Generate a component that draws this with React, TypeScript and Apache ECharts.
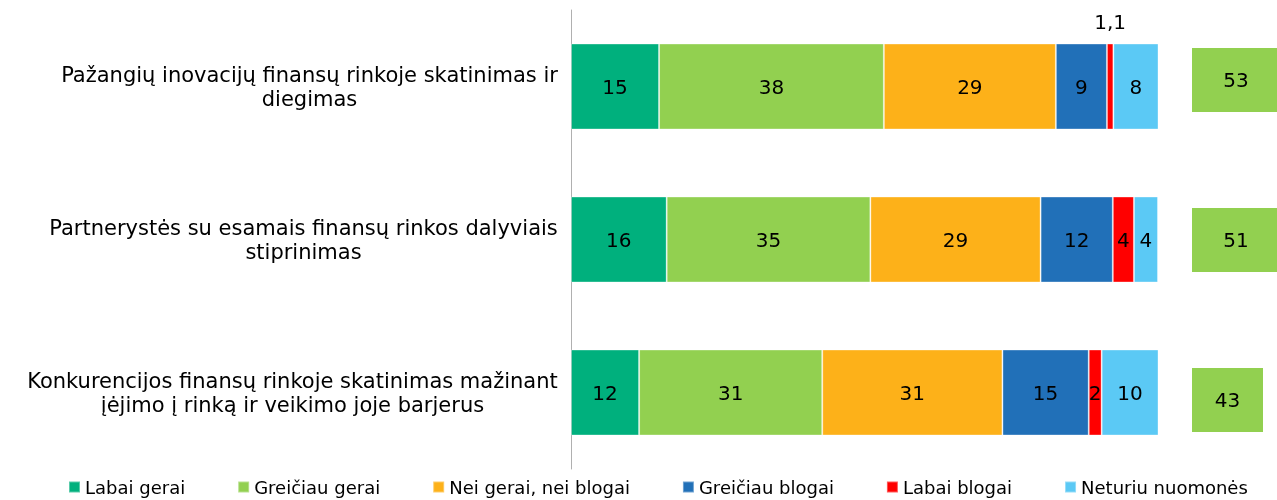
import React, { useEffect, useRef } from "react";
import * as echarts from "echarts";

const categories = [
  "Pažangių inovacijų finansų rinkoje skatinimas ir\ndiegimas",
  "Partnerystės su esamais finansų rinkos dalyviais\nstiprinimas",
  "Konkurencijos finansų rinkoje skatinimas mažinant\nįėjimo į rinką ir veikimo joje barjerus",
];
const seriesNames = [
  "Labai gerai",
  "Greičiau gerai",
  "Nei gerai, nei blogai",
  "Greičiau blogai",
  "Labai blogai",
  "Neturiu nuomonės",
];
const labaiGerai = [15, 16.3, 11.6];
const greiciauGerai = [38.3, 34.7, 31.2];
const neiGerai = [29.3, 29, 30.7];
const greiciauBlogai = [8.7, 12.3, 14.7];
const labaiBlogai = [1.1, 3.6, 2.2];
const neturiu = [7.7, 4.1, 9.7];
const totals = [53, 51, 43];
const colors = ["#00B07D", "#92D050", "#FDB119", "#2170B8", "#FF0000", "#5BC9F5"];

const FONT = "DejaVu Sans, Verdana, sans-serif";
const CAT_FONT_SIZE = 21;

export default function App() {
  const ref = useRef<HTMLDivElement>(null);
  useEffect(() => {
    const chart = echarts.init(ref.current!, null, { renderer: "svg" });
    const values = [labaiGerai, greiciauGerai, neiGerai, greiciauBlogai, labaiBlogai, neturiu];

    // measure label blocks so lines are centred within a right-aligned block
    const ctx = document.createElement("canvas").getContext("2d")!;
    ctx.font = `${CAT_FONT_SIZE}px "DejaVu Sans", Verdana, sans-serif`;
    const rich: Record<string, any> = {};
    categories.forEach((c, i) => {
      const w = Math.max(...c.split("\n").map((l) => ctx.measureText(l).width));
      rich["c" + i] = {
        width: Math.ceil(w) + 2,
        align: "center",
        fontSize: CAT_FONT_SIZE,
        lineHeight: 24,
        color: "#000",
        fontFamily: FONT,
      };
    });

    const barSeries = values.map((vals, i) => ({
      name: seriesNames[i],
      type: "bar",
      stack: "total",
      xAxisIndex: 0,
      yAxisIndex: 0,
      barWidth: 86,
      itemStyle: {
        color: colors[i],
        borderColor: "rgba(255,255,255,0.35)",
        borderWidth: 1,
      },
      label: {
        show: true,
        position: "inside",
        color: "#000",
        fontSize: 20,
        fontFamily: FONT,
        formatter: (p: any) => String(Math.round(p.value)),
      },
      data: vals.map((v, j) =>
        i === 4 && j === 0
          ? {
              value: v,
              label: {
                position: "top",
                distance: 12,
                formatter: (p: any) => String(p.value).replace(".", ","),
              },
            }
          : v
      ),
    }));
    const boxWidths = [88, 88, 71];
    chart.setOption({
      animation: false,
      textStyle: { fontFamily: FONT },
      grid: [
        { left: 571, right: 119, top: 10, height: 459 },
        { left: 1192, width: 1, top: 0, height: 480 },
      ],
      xAxis: [
        { type: "value", min: 0, max: 100, show: false, gridIndex: 0 },
        { type: "value", min: 0, max: 1, show: false, gridIndex: 1 },
      ],
      yAxis: [
        {
          type: "category",
          data: categories,
          inverse: true,
          gridIndex: 0,
          axisLine: { show: true, lineStyle: { color: "#B0B0B0", width: 1 } },
          axisTick: { show: false },
          axisLabel: {
            align: "right",
            margin: 12,
            fontSize: CAT_FONT_SIZE,
            lineHeight: 24,
            color: "#000",
            fontFamily: FONT,
            rich,
            formatter: (v: string, idx: number) =>
              v
                .split("\n")
                .map((l) => `{c${idx}|${l}}`)
                .join("\n"),
          },
        },
        {
          type: "category",
          data: categories,
          inverse: true,
          gridIndex: 1,
          show: false,
        },
      ],
      legend: {
        data: seriesNames,
        left: 63,
        top: 473,
        itemWidth: 11,
        itemHeight: 11,
        itemGap: 52,
        icon: "rect",
        textStyle: { fontSize: 18, color: "#000", fontFamily: FONT },
      },
      series: [
        ...barSeries,
        {
          type: "scatter",
          xAxisIndex: 1,
          yAxisIndex: 1,
          symbol: "rect",
          itemStyle: { color: "#92D050", opacity: 1 },
          label: {
            show: true,
            position: "inside",
            color: "#000",
            fontSize: 20,
            fontFamily: FONT,
            formatter: (p: any) => String(totals[p.dataIndex]),
          },
          data: totals.map((_t, j) => ({
            value: [0, j],
            symbolSize: [boxWidths[j], 64],
            symbolOffset: [boxWidths[j] / 2, 0],
          })),
        },
      ],
    });
    return () => chart.dispose();
  }, []);
  return (
    <div
      ref={ref}
      style={{ position: "fixed", left: 0, top: 0, width: 1277, height: 500 }}
    />
  );
}
